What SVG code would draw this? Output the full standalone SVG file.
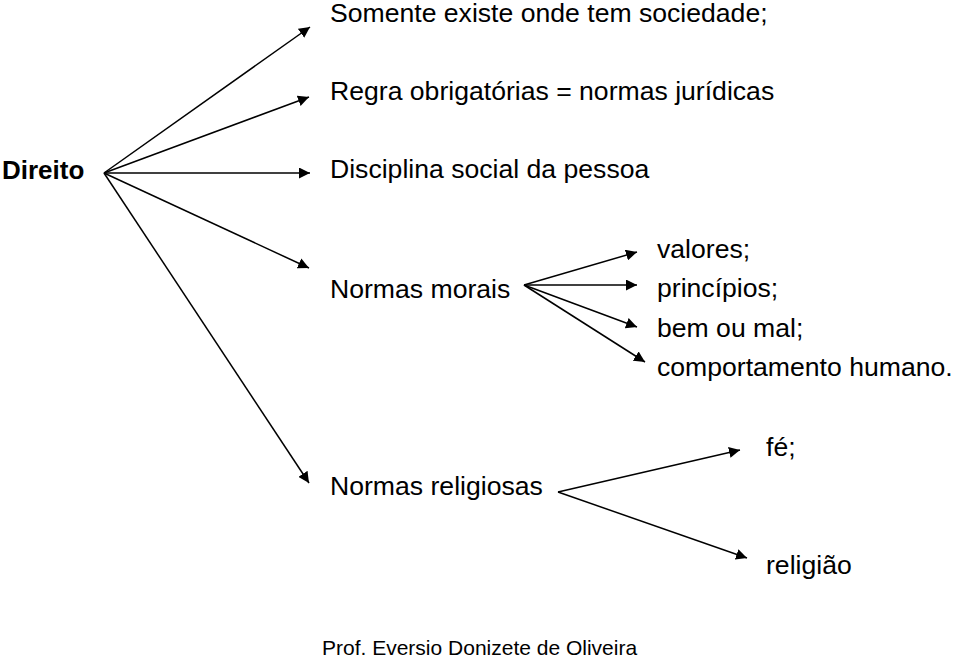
<svg xmlns="http://www.w3.org/2000/svg" width="959" height="659" viewBox="0 0 959 659">
<defs>
<marker id="ah" viewBox="0 0 10 10" refX="10" refY="5" markerWidth="11" markerHeight="11" markerUnits="userSpaceOnUse" orient="auto">
<path d="M0,0 L10,5 L0,10 z" fill="#000"/>
</marker>
<style>
text{font-family:"Liberation Sans",Arial,sans-serif;font-size:26.6px;fill:#000}
.b{font-weight:bold;font-size:26px}
.f{font-size:21px}
line{stroke:#000;stroke-width:1.5;marker-end:url(#ah)}
</style>
</defs>
<rect width="959" height="659" fill="#fff"/>
<g id="connectors">
<line x1="104" y1="173" x2="310" y2="27"/>
<line x1="104" y1="173" x2="309" y2="97"/>
<line x1="104" y1="173" x2="310" y2="173"/>
<line x1="104" y1="173" x2="309" y2="268"/>
<line x1="104" y1="173" x2="309" y2="483"/>
<line x1="524" y1="285" x2="637" y2="252"/>
<line x1="524" y1="285" x2="637" y2="285"/>
<line x1="524" y1="285" x2="637" y2="327"/>
<line x1="524" y1="285" x2="645" y2="362"/>
<line x1="558" y1="492" x2="740" y2="450"/>
<line x1="558" y1="492" x2="747" y2="558"/>
</g>
<g id="direito"><text class="b" x="2" y="179">Direito</text></g>
<g id="somente"><text x="330" y="22">Somente existe onde tem sociedade;</text></g>
<g id="regra"><text x="330" y="100">Regra obrigatórias = normas jurídicas</text></g>
<g id="disciplina"><text x="330" y="178">Disciplina social da pessoa</text></g>
<g id="morais"><text x="330" y="298">Normas morais</text></g>
<g id="valores"><text x="657" y="258">valores;</text></g>
<g id="principios"><text x="657" y="297">princípios;</text></g>
<g id="bem"><text x="657" y="337">bem ou mal;</text></g>
<g id="comportamento"><text x="657" y="376">comportamento humano.</text></g>
<g id="religiosas"><text x="330" y="495">Normas religiosas</text></g>
<g id="fe"><text x="766" y="456">fé;</text></g>
<g id="religiao"><text x="766" y="574">religião</text></g>
<g id="footer"><text class="f" x="322" y="655">Prof. Eversio Donizete de Oliveira</text></g>
</svg>
